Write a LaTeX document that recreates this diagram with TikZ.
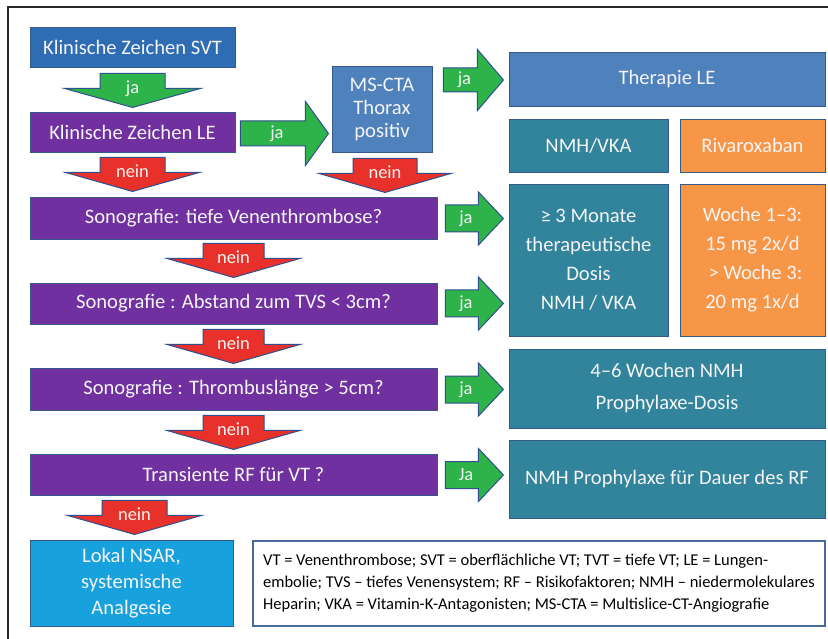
\documentclass[tikz,border=0pt]{standalone}
\usepackage{fontspec}
\setmainfont{Carlito}
\usetikzlibrary{calc}
\definecolor{svtblue}{HTML}{2E6DB4}
\definecolor{medblue}{HTML}{4F81BD}
\definecolor{purp}{HTML}{7030A0}
\definecolor{tealb}{HTML}{31849B}
\definecolor{orng}{HTML}{F79646}
\definecolor{skyb}{HTML}{17A2DE}
\definecolor{grn}{HTML}{2DB34A}
\definecolor{rd}{HTML}{E8312A}
\definecolor{boxedge}{HTML}{35598A}
\definecolor{arredge}{HTML}{2F4F8F}
\definecolor{legedge}{HTML}{4A6A9C}
\definecolor{framec}{HTML}{2A2A2A}
\definecolor{txtw}{HTML}{F4F4F4}
\tikzset{
  box/.style={draw=boxedge, line width=0.9pt, text=txtw, align=center, inner sep=0pt,
    font=\fontsize{20.6}{24}\selectfont},
  lbl/.style={text=txtw, inner sep=0pt, font=\fontsize{18.5}{19}\selectfont},
  pics/darr/.style n args={4}{code={
    \filldraw[fill=#2, draw=arredge, line width=1pt]
      (-#3,0) -- (#3,0) -- (#3,15) -- (#4,15) -- (0,34) -- (-#4,15) -- (-#3,15) -- cycle;
    \node[lbl, anchor=base] (-l) at (0,20) {#1};
  }},
  pics/rarr/.style n args={5}{code={
    \filldraw[fill=grn, draw=arredge, line width=1pt]
      (0,-#3) -- (#2,-#3) -- (#2,-#5) -- ({#2+#4},0) -- (#2,#5) -- (#2,#3) -- (0,#3) -- cycle;
    \node[lbl, anchor=base] (-l) at ({#2/2+4},5) {#1};
  }}
}
\begin{document}
\begin{tikzpicture}[x=1pt,y=-1pt]
\fill[white] (0,0) rectangle (828,639);
\useasboundingbox (0,0) rectangle (828,639);
\draw[framec, line width=1.3pt] (8,639) -- (8,7) -- (828,7);

% left column
\node[box, fill=svtblue, minimum width=205pt, minimum height=40pt] (svt) at (132.5,47) {Klinische Zeichen SVT};
\node[box, fill=purp, minimum width=205pt, minimum height=40pt] (le) at (132.5,132) {Klinische Zeichen LE};
\node[box, fill=medblue, minimum width=100pt, minimum height=86pt, font=\fontsize{20.6}{23}\selectfont] (ms) at (382,109) {MS-CTA\\Thorax\\positiv};

% purple question rows
\node[box, fill=purp, minimum width=407pt, minimum height=42pt] (s1) at (233.5,218) {Sonografie: tiefe Venenthrombose?};
\node[box, fill=purp, minimum width=407pt, minimum height=41pt] (s2) at (233.5,303.5) {Sonografie : Abstand zum TVS < 3cm?};
\node[box, fill=purp, minimum width=407pt, minimum height=42pt] (s3) at (233.5,389) {Sonografie : Thrombuslänge > 5cm?};
\node[box, fill=purp, minimum width=407pt, minimum height=41pt] (s4) at (233.5,474.5) {Transiente RF für VT ?};

\node[box, fill=skyb, minimum width=203pt, minimum height=86pt, font=\fontsize{20.6}{26}\selectfont] (lokal) at (131.5,583) {Lokal NSAR,\\systemische\\Analgesie};

% right column
\node[box, fill=medblue, minimum width=316pt, minimum height=54pt] (ther) at (667,79) {Therapie LE};
\node[box, fill=tealb, minimum width=159pt, minimum height=53pt] (nmh) at (588.5,145.5) {NMH/VKA};
\node[box, fill=orng, minimum width=145pt, minimum height=53pt] (riva) at (752.5,145.5) {Rivaroxaban};
\node[box, fill=tealb, minimum width=159pt, minimum height=152pt, font=\fontsize{20.6}{29}\selectfont] (mon) at (588.5,260) {≥ 3 Monate\\therapeutische\\Dosis\\NMH / VKA};
\node[box, fill=orng, minimum width=145pt, minimum height=152pt, font=\fontsize{20.6}{29}\selectfont] (woche) at (752.5,260) {Woche 1–3:\\15 mg 2x/d\\\hspace*{6pt}> Woche 3:\\20 mg 1x/d};
\node[box, fill=tealb, minimum width=316pt, minimum height=79pt, font=\fontsize{20.6}{32}\selectfont] (wk) at (667,388.5) {4–6 Wochen NMH\\Prophylaxe-Dosis};
\node[box, fill=tealb, minimum width=316pt, minimum height=78pt] (pr) at (667,479) {NMH Prophylaxe für Dauer des RF};

% legend
\node[draw=legedge, line width=1.3pt, fill=white, minimum width=572pt, minimum height=85pt, align=left, inner sep=0pt, text=black, font=\fontsize{16.5}{22}\selectfont] (leg) at (539,583.5) {VT = Venenthrombose; SVT = oberflächliche VT; TVT = tiefe VT; LE = Lungen-\\embolie; TVS – tiefes Venensystem; RF – Risikofaktoren; NMH – niedermolekulares\\Heparin; VKA = Vitamin-K-Antagonisten; MS-CTA = Multislice-CT-Angiografie};

% down arrows
\pic (a1) at ($(svt.south)+(0,6)$) {darr={ja}{grn}{32.5}{68}};
\pic (a2) at ($(le.south)+(0,5)$) {darr={nein}{rd}{32.5}{67}};
\pic (a3) at ($(ms.south)+(3,6)$) {darr={nein}{rd}{32}{66}};
\pic (a4) at ($(s1.south)+(0,4)$) {darr={nein}{rd}{30.5}{66.5}};
\pic (a5) at ($(s2.south)+(0,5)$) {darr={nein}{rd}{30.5}{66.5}};
\pic (a6) at ($(s3.south)+(0,5)$) {darr={nein}{rd}{30.5}{66.5}};
\pic (a7) at ($(s4.south -| lokal.north)+(3,5)$) {darr={nein}{rd}{32.5}{67}};

% right arrows
\pic (r1) at ($(le.east)+(5,1.5)$) {rarr={ja}{65}{12.5}{23}{32}};
\pic (r2) at ($(ms.east |- ther.west)+(11,1)$) {rarr={ja}{34}{12}{26}{30.5}};
\pic (r3) at ($(s1.east)+(8,0.5)$) {rarr={ja}{33}{13.5}{25}{26.5}};
\pic (r4) at ($(s2.east)+(8,0)$) {rarr={ja}{33}{13.5}{25}{26.5}};
\pic (r5) at ($(s3.east)+(8,0.5)$) {rarr={ja}{33}{13.5}{25}{26.5}};
\pic (r6) at ($(s4.east)+(8,0.5)$) {rarr={Ja}{33}{13.5}{25}{26.5}};
\end{tikzpicture}
\end{document}
